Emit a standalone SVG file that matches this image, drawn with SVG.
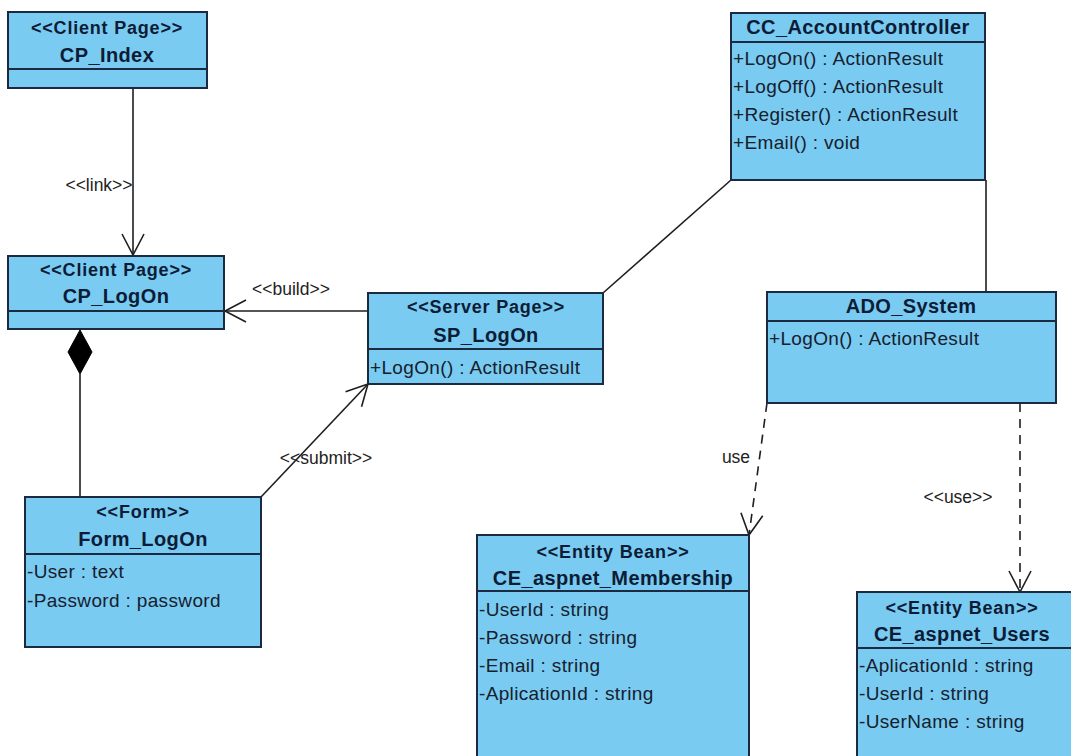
<svg xmlns="http://www.w3.org/2000/svg" width="1071" height="756" viewBox="0 0 1071 756">
  <style>
    .box { fill: #7acbf1; stroke: #1b2a40; stroke-width: 2; }
    .sep { stroke: #1b2a40; stroke-width: 2; }
    .st { font-family: "Liberation Sans", Arial, sans-serif; font-weight: bold; font-size: 18px; letter-spacing: 0.8px; fill: #0c1c36; text-anchor: middle; }
    .nm { font-family: "Liberation Sans", Arial, sans-serif; font-weight: bold; font-size: 20px; letter-spacing: 0.4px; fill: #0c1c36; text-anchor: middle; }
    .at { font-family: "Liberation Sans", Arial, sans-serif; font-size: 19px; letter-spacing: 0.35px; fill: #16202e; }
    .lbl { font-family: "Liberation Sans", Arial, sans-serif; font-size: 17.5px; fill: #222; text-anchor: middle; }
    .ln { fill: none; stroke: #1e1e1e; stroke-width: 1.6; }
    .dash { stroke-dasharray: 9 7; }
  </style>
  <defs>
    <!-- open V arrowhead used by dependency / navigable links -->
    <marker id="open" viewBox="0 0 24 24" refX="22" refY="12" markerWidth="24" markerHeight="24" markerUnits="userSpaceOnUse" orient="auto">
      <path d="M1,1 L22,12 L1,23" fill="none" stroke="#1e1e1e" stroke-width="1.6" stroke-dasharray="none"/>
    </marker>
  </defs>

  <rect width="1071" height="756" fill="#ffffff"/>

  <!-- connectors -->
  <g id="connectors">
    <line class="ln" x1="133" y1="88" x2="133" y2="255" marker-end="url(#open)"/>
    <text class="lbl" x="99" y="191">&lt;&lt;link&gt;&gt;</text>

    <line class="ln" x1="368" y1="311" x2="225" y2="311" marker-end="url(#open)"/>
    <text class="lbl" x="291" y="295">&lt;&lt;build&gt;&gt;</text>

    <line class="ln" x1="80" y1="374" x2="80" y2="497"/>
    <polygon points="80,330 92,352 80,374 68,352" fill="#000" stroke="#000" stroke-width="1"/>

    <line class="ln" x1="261" y1="497" x2="368" y2="384" marker-end="url(#open)"/>
    <text class="lbl" x="326" y="464">&lt;&lt;submit&gt;&gt;</text>

    <line class="ln" x1="731" y1="180" x2="603" y2="293"/>
    <line class="ln" x1="986" y1="180" x2="986" y2="292"/>

    <line class="ln dash" x1="767" y1="403" x2="749" y2="535" marker-end="url(#open)"/>
    <text class="lbl" x="736" y="463">use</text>

    <line class="ln dash" x1="1020" y1="403" x2="1020" y2="592" marker-end="url(#open)"/>
    <text class="lbl" x="958" y="503">&lt;&lt;use&gt;&gt;</text>
  </g>

  <g id="CP_Index">
    <rect class="box" x="8" y="12" width="199" height="76"/>
    <line class="sep" x1="8" y1="69" x2="207" y2="69"/>
    <text class="st" x="107" y="34">&lt;&lt;Client Page&gt;&gt;</text>
    <text class="nm" x="107" y="62">CP_Index</text>
  </g>

  <g id="CP_LogOn">
    <rect class="box" x="8" y="256" width="216" height="73"/>
    <line class="sep" x1="8" y1="311" x2="224" y2="311"/>
    <text class="st" x="116" y="276">&lt;&lt;Client Page&gt;&gt;</text>
    <text class="nm" x="116" y="303">CP_LogOn</text>
  </g>

  <g id="SP_LogOn">
    <rect class="box" x="368" y="293" width="235" height="91"/>
    <line class="sep" x1="368" y1="349" x2="603" y2="349"/>
    <text class="st" x="486" y="313">&lt;&lt;Server Page&gt;&gt;</text>
    <text class="nm" x="486" y="342">SP_LogOn</text>
    <text class="at" x="370" y="374">+LogOn() : ActionResult</text>
  </g>

  <g id="CC_AccountController">
    <rect class="box" x="731" y="13" width="254" height="167"/>
    <line class="sep" x1="731" y1="42" x2="985" y2="42"/>
    <text class="nm" x="858" y="34">CC_AccountController</text>
    <text class="at" x="733" y="65">+LogOn() : ActionResult</text>
    <text class="at" x="733" y="93">+LogOff() : ActionResult</text>
    <text class="at" x="733" y="121">+Register() : ActionResult</text>
    <text class="at" x="733" y="149">+Email() : void</text>
  </g>

  <g id="ADO_System">
    <rect class="box" x="767" y="292" width="289" height="111"/>
    <line class="sep" x1="767" y1="321" x2="1056" y2="321"/>
    <text class="nm" x="911" y="313">ADO_System</text>
    <text class="at" x="769" y="345">+LogOn() : ActionResult</text>
  </g>

  <g id="Form_LogOn">
    <rect class="box" x="25" y="497" width="236" height="150"/>
    <line class="sep" x1="25" y1="554" x2="261" y2="554"/>
    <text class="st" x="143" y="518">&lt;&lt;Form&gt;&gt;</text>
    <text class="nm" x="143" y="546">Form_LogOn</text>
    <text class="at" x="27" y="578">-User : text</text>
    <text class="at" x="27" y="607">-Password : password</text>
  </g>

  <g id="CE_aspnet_Membership">
    <rect class="box" x="477" y="535" width="272" height="230"/>
    <line class="sep" x1="477" y1="591" x2="749" y2="591"/>
    <text class="st" x="613" y="558">&lt;&lt;Entity Bean&gt;&gt;</text>
    <text class="nm" x="613" y="585">CE_aspnet_Membership</text>
    <text class="at" x="479" y="616">-UserId : string</text>
    <text class="at" x="479" y="644">-Password : string</text>
    <text class="at" x="479" y="672">-Email : string</text>
    <text class="at" x="479" y="700">-AplicationId : string</text>
  </g>

  <g id="CE_aspnet_Users">
    <rect class="box" x="857" y="592" width="220" height="175"/>
    <line class="sep" x1="857" y1="648" x2="1077" y2="648"/>
    <text class="st" x="962" y="614">&lt;&lt;Entity Bean&gt;&gt;</text>
    <text class="nm" x="962" y="641">CE_aspnet_Users</text>
    <text class="at" x="859" y="672">-AplicationId : string</text>
    <text class="at" x="859" y="700">-UserId : string</text>
    <text class="at" x="859" y="728">-UserName : string</text>
  </g>
</svg>
